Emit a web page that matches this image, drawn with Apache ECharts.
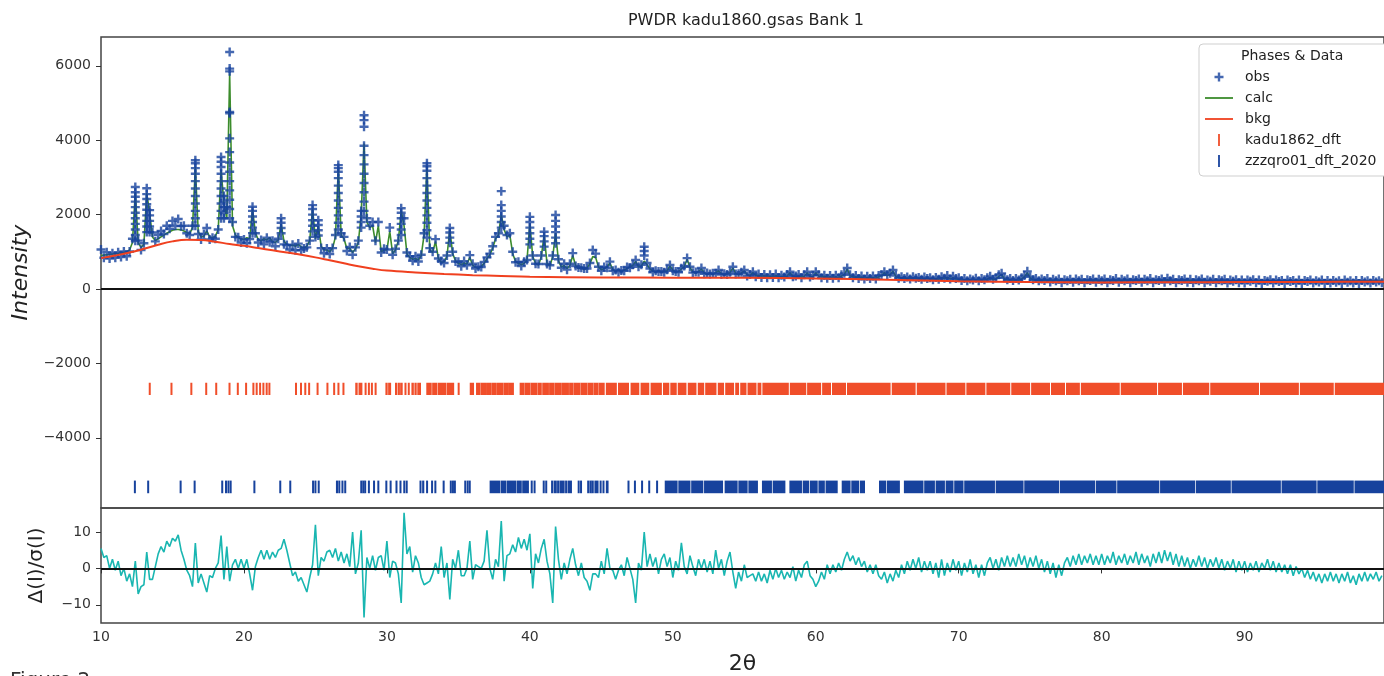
<!DOCTYPE html>
<html>
<head>
<meta charset="utf-8">
<title>PWDR kadu1860.gsas Bank 1</title>
<script src="https://cdn.jsdelivr.net/npm/echarts@6/dist/echarts.min.js"></script>
<style>
  html, body { margin: 0; padding: 0; background: #fff; }
  #chart { width: 1384px; height: 676px; }
</style>
</head>
<body>
<div id="chart"></div>
<script>
// scan grid (2θ, degrees)
const tthStart = 10.0;
const tthStep = 0.2;

// observed intensity, one row = 2 degrees
const obsI = [
  1060, 840, 990, 820, 960, 840, 990, 860, 1010, 880,         // 10
  1010, 1350, 2740, 1300, 1050, 1230, 2710, 2120, 1520, 1280, // 12
  1450, 1560, 1480, 1700, 1620, 1830, 1700, 1880, 1690, 1700, // 14
  1500, 1450, 1700, 3460, 1480, 1330, 1480, 1640, 1330, 1380, // 16
  1350, 1600, 3550, 2500, 2200, 6370, 1800, 1400, 1390, 1250, // 18
  1330, 1230, 1340, 2210, 1500, 1250, 1320, 1200, 1380, 1260, // 20
  1300, 1150, 1350, 1900, 1200, 1180, 1060, 1190, 1040, 1220, // 22
  1050, 1090, 1120, 1300, 2255, 1400, 1850, 1100, 960, 1090,  // 24
  940, 1100, 1450, 3330, 1500, 1400, 1020, 1130, 920, 1120,   // 26
  1300, 2100, 4670, 1900, 1700, 1800, 1300, 1800, 980, 1080,  // 28
  1060, 1650, 920, 1080, 1300, 2170, 1900, 980, 880, 760,     // 30
  880, 740, 920, 1500, 3380, 1100, 1000, 1340, 820, 750,      // 32
  700, 900, 1640, 1000, 740, 730, 610, 750, 640, 910,         // 34
  680, 550, 600, 590, 730, 850, 950, 1150, 1400, 1500,        // 36
  2630, 1700, 1450, 1500, 1000, 720, 730, 620, 730, 780,      // 38
  1940, 900, 680, 670, 900, 1540, 670, 640, 900, 1990,        // 40
  800, 570, 680, 520, 680, 965, 620, 580, 570, 550,           // 42
  550, 700, 1050, 950, 600, 490, 590, 570, 735, 490,          // 44
  510, 450, 500, 490, 590, 570, 650, 780, 600, 650,           // 46
  1135, 700, 550, 450, 490, 470, 470, 450, 520, 645,          // 48
  490, 470, 450, 560, 620, 830, 600, 440, 460, 450,           // 50
  565, 410, 430, 400, 420, 420, 510, 390, 410, 390,           // 52
  450, 600, 400, 410, 450, 510, 350, 390, 465, 330,           // 54
  400, 310, 390, 300, 380, 310, 400, 300, 370, 320,           // 56
  390, 465, 330, 350, 390, 300, 380, 465, 320, 370,           // 58
  465, 380, 300, 370, 290, 360, 290, 370, 300, 380,           // 60
  420, 565, 380, 300, 360, 280, 350, 270, 340, 280,           // 62
  350, 270, 360, 380, 465, 380, 420, 510, 360, 290,           // 64
  330, 280, 320, 270, 330, 290, 310, 260, 320, 280,           // 66
  300, 250, 310, 260, 330, 290, 360, 270, 340, 280,           // 68
  300, 230, 280, 220, 270, 240, 290, 220, 280, 250,           // 70
  300, 340, 260, 300, 380, 420, 300, 250, 280, 230,           // 72
  280, 240, 300, 360, 475, 330, 250, 280, 220, 270,           // 74
  230, 280, 190, 260, 220, 270, 170, 250, 220, 260,           // 76
  180, 270, 220, 260, 170, 250, 230, 270, 180, 260,           // 78
  220, 270, 170, 250, 230, 280, 180, 260, 220, 270,           // 80
  170, 250, 230, 270, 180, 260, 220, 280, 170, 250,           // 82
  230, 270, 180, 290, 220, 260, 170, 250, 230, 270,           // 84
  180, 260, 170, 250, 220, 270, 170, 240, 210, 260,           // 86
  170, 250, 220, 260, 160, 240, 210, 250, 170, 240,           // 88
  160, 240, 210, 250, 170, 240, 150, 230, 210, 250,           // 90
  160, 240, 200, 230, 150, 240, 200, 230, 160, 240,           // 92
  150, 230, 200, 240, 160, 220, 190, 240, 150, 230,           // 94
  160, 230, 180, 220, 150, 240, 180, 220, 160, 230,           // 96
  150, 230, 190, 220, 160, 230, 190, 220, 170                 // 98
];

// extra obs points stacked on the flanks of the strong peaks: [2θ, [I...]]
const obsStacks = [
  [12.4, [2600, 2480, 2350, 2200, 2050, 1900, 1750, 1600, 1450, 1300]],
  [13.2, [2550, 2420, 2280, 2130, 1980, 1830, 1680, 1530]],
  [13.4, [1980, 1830, 1680, 1530]],
  [16.6, [3380, 3250, 3100, 2900, 2700, 2500, 2300, 2100, 1900, 1700]],
  [18.4, [3420, 3280, 3100, 2900, 2700, 2500, 2300, 2100, 1900]],
  [18.6, [2350, 2200, 2050, 1900]],
  [19.0, [5925, 5850, 4760, 4725, 4050, 3680, 3400, 3150, 2900, 2650, 2400, 2150, 1900]],
  [20.6, [2100, 1950, 1800, 1650, 1500]],
  [22.6, [1780, 1640, 1500]],
  [24.8, [2150, 2000, 1850, 1700, 1550]],
  [25.2, [1720, 1580, 1440]],
  [26.6, [3250, 3150, 2980, 2780, 2580, 2380, 2180, 1980, 1780, 1600]],
  [28.2, [1950, 1800, 1650]],
  [28.4, [4540, 4360, 3850, 3600, 3350, 3100, 2850, 2600, 2350, 2100]],
  [31.0, [2050, 1900, 1750, 1600, 1450]],
  [32.8, [3300, 3180, 2980, 2780, 2580, 2380, 2180, 1980, 1780, 1580, 1380]],
  [34.4, [1520, 1380, 1240]],
  [38.0, [2255, 2100, 1950, 1800, 1650]],
  [40.0, [1800, 1650, 1500, 1350, 1200]],
  [41.0, [1420, 1280, 1140]],
  [41.8, [1830, 1680, 1530, 1380, 1230]],
  [48.0, [1020, 900]]
];

// calculated profile on the same grid
const calcI = [
  900, 910, 920, 930, 940, 950, 960, 970, 985, 1000,          // 10
  1050, 1250, 2600, 1250, 1120, 1200, 2580, 2050, 1400, 1300, // 12
  1350, 1400, 1450, 1500, 1540, 1580, 1600, 1600, 1590, 1560, // 14
  1520, 1480, 1650, 3280, 1550, 1400, 1420, 1560, 1400, 1380, // 16
  1420, 1600, 3200, 2300, 1900, 5800, 1700, 1450, 1380, 1350, // 18
  1330, 1380, 1350, 2150, 1500, 1330, 1300, 1350, 1320, 1380, // 20
  1270, 1250, 1320, 1750, 1280, 1200, 1170, 1180, 1150, 1200, // 22
  1130, 1100, 1150, 1300, 2150, 1350, 1700, 1150, 1050, 1050, // 24
  1000, 1100, 1400, 3250, 1450, 1350, 1080, 1100, 980, 1080,  // 26
  1250, 2000, 3910, 1800, 1650, 1700, 1250, 1700, 1000, 1050, // 28
  1050, 1550, 950, 1050, 1300, 2100, 1700, 950, 850, 800,     // 30
  820, 780, 900, 1450, 3300, 1050, 980, 1280, 820, 720,       // 32
  730, 880, 1600, 950, 760, 690, 650, 700, 670, 850,          // 34
  640, 580, 560, 610, 690, 820, 920, 1100, 1350, 1450,        // 36
  1990, 1600, 1400, 1450, 950, 740, 690, 650, 690, 780,       // 38
  1750, 870, 690, 640, 870, 1450, 690, 620, 870, 1500,        // 40
  760, 590, 630, 550, 630, 900, 630, 550, 590, 520,           // 42
  570, 680, 870, 850, 590, 520, 550, 590, 700, 520,           // 44
  480, 520, 470, 510, 550, 590, 630, 740, 590, 620,           // 46
  750, 650, 540, 480, 460, 490, 450, 470, 490, 620,           // 48
  510, 450, 470, 540, 600, 800, 580, 460, 430, 470,           // 50
  540, 430, 400, 420, 390, 440, 490, 410, 380, 410,           // 52
  440, 570, 420, 380, 430, 490, 380, 360, 440, 360,           // 54
  370, 340, 360, 330, 350, 330, 360, 330, 340, 330,           // 56
  350, 440, 340, 330, 350, 320, 340, 440, 330, 340,           // 58
  440, 350, 320, 340, 310, 330, 310, 330, 310, 350,           // 60
  390, 540, 360, 320, 330, 300, 320, 290, 310, 300,           // 62
  310, 290, 330, 360, 440, 360, 390, 480, 340, 300,           // 64
  300, 280, 290, 270, 300, 280, 290, 265, 290, 275,           // 66
  280, 260, 285, 265, 300, 280, 320, 270, 300, 270,           // 68
  260, 240, 250, 235, 250, 240, 255, 235, 250, 240,           // 70
  270, 310, 250, 270, 340, 390, 270, 240, 250, 230,           // 72
  250, 235, 270, 330, 440, 300, 240, 250, 225, 240,           // 74
  230, 240, 225, 235, 225, 240, 220, 235, 225, 235,           // 76
  225, 240, 225, 235, 220, 235, 225, 240, 220, 235,           // 78
  225, 235, 220, 235, 225, 240, 220, 235, 225, 240,           // 80
  220, 235, 225, 240, 220, 235, 225, 245, 220, 235,           // 82
  225, 240, 220, 250, 225, 235, 220, 235, 225, 240,           // 84
  220, 235, 220, 235, 225, 240, 220, 230, 220, 235,           // 86
  220, 230, 225, 235, 215, 230, 220, 230, 215, 230,           // 88
  215, 230, 220, 230, 215, 225, 210, 225, 215, 230,           // 90
  210, 225, 215, 225, 210, 225, 215, 225, 210, 225,           // 92
  210, 220, 215, 225, 210, 220, 210, 225, 210, 220,           // 94
  210, 220, 210, 220, 210, 225, 210, 220, 210, 220,           // 96
  210, 220, 210, 220, 210, 220, 210, 215, 210                 // 98
];

// background curve [2θ, I]
const bkgPts = [
  [10, 830], [11, 900], [12, 980], [13, 1080], [14, 1190], [15, 1280], [16, 1325],
  [17, 1320], [18, 1270], [19, 1210], [20, 1160], [21, 1100], [22, 1040], [23, 980],
  [24, 920], [25, 850], [26, 770], [27, 690], [28, 610], [29, 545], [30, 495],
  [32, 445], [34, 405], [36, 372], [38, 350], [40, 330], [45, 310], [50, 305],
  [55, 300], [60, 285], [65, 250], [70, 205], [75, 185], [80, 178], [85, 180],
  [90, 185], [95, 190], [99.75, 195]
];

// difference curve Δ(I)/σ(I) on the scan grid
const diffI = [
  5.5, 3.0, 3.5, 0.0, 2.5, -0.5, 2.0, -2.0, 0.0, -3.5,        // 10
  -1.5, -5.0, 2.0, -7.0, -5.0, -4.5, 4.5, -3.0, -3.0, 0.5,    // 12
  4.0, 6.0, 4.5, 7.5, 6.0, 8.3, 7.5, 9.2, 5.0, 2.5,           // 14
  -0.5, -2.0, -5.0, 7.0, -4.0, -1.5, -4.0, -6.5, -2.0, -2.5,  // 16
  0.0, 1.5, 9.0, -3.0, 6.0, -3.5, 1.0, 2.5, 0.0, 2.5,         // 18
  0.0, 2.5, -1.5, -6.0, 0.5, 3.0, 5.0, 2.5, 5.0, 2.5,         // 20
  4.5, 3.0, 5.0, 5.5, 8.0, 5.0, 1.5, -2.0, -1.0, -3.5,        // 22
  -2.5, -4.5, -6.5, -2.5, 1.0, 12.0, -2.0, 3.0, 2.0, 4.5,     // 24
  5.0, 3.0, 5.5, 2.0, 4.5, 1.5, 4.0, 0.5, 10.0, -1.5,         // 26
  1.5, 10.5, -13.5, 3.0, 0.0, 3.5, -0.5, 3.0, 3.5, -0.5,      // 28
  7.5, -2.5, 2.0, 1.5, -1.5, -9.5, 15.3, 4.0, 6.0, -1.0,      // 30
  3.5, 1.5, -2.5, -4.5, -4.0, -3.5, -1.5, 1.5, -1.5, 6.0,     // 32
  -2.5, 1.5, -8.5, 2.5, 0.0, 5.0, -2.0, -2.0, 0.0, 7.5,       // 34
  -3.0, 1.0, 0.5, 0.0, 2.0, 10.5, 0.0, -3.0, 2.5, 0.5,        // 36
  13.0, -3.5, 3.5, 4.0, 6.5, 4.5, 8.5, 5.5, 8.0, 5.0,         // 38
  9.5, -5.5, 4.0, 1.5, 5.5, 8.0, 2.0, -1.5, -9.5, 11.5,       // 40
  2.5, -3.0, 1.5, -1.5, 2.5, 5.5, 1.0, -2.0, 1.5, -2.5,       // 42
  -3.5, -6.0, -1.5, -1.5, -2.5, 2.0, -1.5, 5.5, 0.0, -0.5,    // 44
  -3.0, -0.5, 1.0, -2.0, 3.0, 0.0, -3.0, -9.5, 1.5, -0.5,     // 46
  10.0, 0.5, 4.0, 0.5, 3.0, -1.5, 2.5, 4.0, 0.5, 3.0,         // 48
  -2.5, 2.0, -0.5, 7.0, 0.5, -1.5, 3.5, 0.5, -2.0, 2.5,       // 50
  0.0, 2.5, -1.0, 2.0, -1.5, 5.0, 0.0, 2.5, -2.0, 2.0,        // 52
  4.5, -1.0, -5.5, -1.0, -3.5, 1.0, -2.5, -2.0, -1.5, -3.5,   // 54
  -1.0, -3.5, -1.5, -4.0, -0.5, -3.0, 0.0, -2.5, -0.5, -3.0,  // 56
  -1.0, -2.5, 0.5, -3.5, -0.5, -2.5, 1.0, 2.0, -2.0, -3.0,    // 58
  -5.0, -3.5, -1.0, -3.0, 1.0, -1.5, 1.0, -1.0, 1.5, -0.5,    // 60
  2.5, 4.5, 2.0, 3.5, 1.0, 3.0, 0.5, 2.0, -1.0, 1.0,          // 62
  -1.5, 1.0, -2.0, -3.0, -1.0, -4.0, -1.5, -3.5, -0.5, -2.5,  // 64
  1.0, -1.5, 2.0, -0.5, 2.5, 0.0, 3.0, -1.0, 2.0, -0.5,       // 66
  2.0, -1.5, 1.5, -2.5, 2.5, -2.0, 1.5, -1.0, 2.5, -0.5,      // 68
  2.0, -2.0, 1.5, -1.0, 2.5, -1.5, 1.0, -2.5, 1.0, -2.0,      // 70
  1.5, 3.0, 0.0, 2.5, -0.5, 3.0, 0.5, 3.5, 0.5, 3.0,          // 72
  0.5, 4.0, 1.0, 3.5, 0.0, 3.0, 0.5, 3.5, 0.0, 2.5,           // 74
  -1.0, 2.0, -1.5, 1.5, -2.5, 1.0, -2.0, 1.5, 3.0, 0.5,       // 76
  3.5, 1.0, 4.0, 1.0, 3.5, 1.5, 4.0, 1.0, 3.5, 1.0,           // 78
  4.0, 1.0, 3.5, 1.5, 4.5, 1.0, 3.5, 1.5, 4.0, 1.0,           // 80
  3.5, 1.5, 4.5, 1.0, 4.0, 1.5, 3.5, 0.5, 4.0, 1.5,           // 82
  4.5, 1.5, 5.0, 2.0, 4.5, 1.0, 4.0, 0.5, 3.5, 0.5,           // 84
  3.0, 0.0, 2.5, 0.5, 3.5, 0.5, 3.0, 0.0, 2.5, 0.5,           // 86
  3.0, 0.0, 2.5, -0.5, 2.0, 0.0, 2.5, -1.0, 2.0, -0.5,        // 88
  2.0, -1.0, 1.5, -0.5, 2.0, -1.0, 1.5, 0.0, 2.5, -0.5,       // 90
  2.0, -1.0, 1.5, -1.0, 1.0, -1.5, 1.0, -2.0, 0.5, -1.5,      // 92
  0.0, -2.5, -0.5, -3.0, -1.0, -3.5, -1.5, -4.0, -1.5, -3.5,  // 94
  -1.0, -3.5, -1.5, -4.0, -1.5, -3.5, -1.0, -4.0, -2.0, -4.5, // 96
  -1.5, -3.5, -1.0, -3.5, -1.5, -3.0, -1.0, -3.5, -2.0        // 98
];

// reflection positions (single 2θ or [from, to] for packed runs)
const kaduTicks = [
  13.41, 14.93, 16.32, 17.36, 18.06, 18.99, 19.57, 20.15, 20.66, 20.89, 21.13, 21.36, 21.59, 21.78,
  23.64, 23.99, 24.29, 24.56, 25.15, 25.84, 26.31, 26.61, 26.96,
  [27.82, 27.92], [28.05, 28.25], 28.51, 28.74, 28.95, 29.21,
  [29.93, 30.02], [30.12, 30.26], [30.6, 30.7], 30.84, [30.96, 31.07], 31.3, 31.53,
  [31.75, 31.85], [31.96, 32.05], [32.16, 32.35],
  [32.79, 33.1], [33.2, 33.5], [33.6, 34.1], [34.2, 34.67], 35.02, [35.83, 36.06],
  [36.27, 36.5], [36.58, 36.9], [36.97, 37.3], [37.38, 37.6], [37.68, 38.1], [38.18, 38.5], [38.56, 38.85],
  [39.32, 39.6], [39.68, 40.0], [40.08, 40.5], [40.58, 40.8], [40.9, 41.3], [41.38, 41.7], [41.78, 42.2],
  [42.28, 42.7], [42.78, 43.0], [43.08, 43.5], [43.58, 44.0], [44.08, 44.4], [44.48, 44.77], [44.85, 45.2],
  [45.35, 46.05], [46.2, 46.9], [47.08, 47.62], [47.78, 48.32], [48.48, 49.2], [49.35, 49.72], [49.86, 50.24],
  [50.38, 50.92], [51.08, 51.62], [51.78, 52.16], [52.3, 53.02], [53.18, 53.55], [53.7, 54.25], [54.4, 54.6],
  [54.75, 55.12], [55.26, 55.82], [55.96, 56.16], [56.3, 58.08], [58.22, 59.3], [59.43, 60.34], [60.48, 61.03],
  [61.17, 62.08], [62.22, 65.2], [65.35, 66.95], [67.1, 69.04], [69.18, 70.43], [70.57, 71.83], [71.97, 73.57],
  [73.71, 74.96], [75.1, 76.35], [76.49, 77.4], [77.54, 78.44], [78.58, 81.23], [81.37, 83.84], [83.98, 85.58],
  [85.72, 87.49], [87.63, 90.97], [91.11, 93.76], [93.9, 96.2], [96.34, 99.75]
];
const zzzTicks = [
  12.37, 13.3, 15.57, 16.55, 18.48, [18.71, 18.78], [18.88, 18.95], [19.04, 19.1], 20.73, 22.54, 23.24,
  [24.8, 24.87], 25.0, [25.2, 25.26], [26.47, 26.55], [26.64, 26.7], 26.89, [27.05, 27.12],
  [28.17, 28.25], 28.35, [28.45, 28.51], 28.74, 29.1, 29.4, 29.96, 30.26, 30.67, 30.95,
  [31.18, 31.25], [31.35, 31.42], 32.35, [32.5, 32.58], 32.81, 33.16, 33.39, 33.97,
  [34.44, 34.5], 34.62, [34.72, 34.79], 35.48, 35.65, [35.76, 35.83],
  [37.22, 37.9], [38.0, 38.3], [38.4, 39.0], [39.1, 39.4], [39.5, 39.9], 40.13, [40.3, 40.36],
  [40.94, 41.0], [41.12, 41.17], [41.52, 41.6], [41.7, 41.85], [41.95, 42.0], [42.1, 42.4], [42.5, 42.6],
  [42.7, 42.91], [43.38, 43.45], [43.55, 43.61], 44.08, [44.2, 44.3], 44.4, [44.55, 44.77], 44.95, 45.15,
  [45.35, 45.47], 46.9, 47.35, 47.85, 48.35, 48.9,
  [49.47, 50.3], [50.42, 51.2], [51.32, 52.1], [52.22, 53.48], [53.66, 54.5], [54.62, 55.2], [55.32, 55.92],
  [56.27, 56.9], [57.02, 57.84], [58.19, 59.0], [59.12, 59.5], [59.62, 60.1], [60.22, 60.6], [60.72, 61.5],
  [61.85, 62.4], [62.52, 63.0], [63.12, 63.41], [64.46, 64.9], [65.02, 65.85], [66.2, 67.5], [67.62, 68.3],
  [68.42, 69.0], [69.12, 69.6], [69.72, 70.3], [70.42, 72.5], [72.62, 74.5], [74.62, 77.0], [77.12, 79.5],
  [79.62, 81.0], [81.12, 84.0], [84.12, 86.5], [86.62, 89.0], [89.12, 92.5], [92.62, 95.0], [95.12, 97.6],
  [97.72, 99.75]
];

// tick labels
const tthTicks = [10, 20, 30, 40, 50, 60, 70, 80, 90];
const intensityTicks = [-4000, -2000, 0, 2000, 4000, 6000];
const diffTicks = [-10, 0, 10];

// ---- build series data ----
const tth = obsI.map((_, i) => +(tthStart + i * tthStep).toFixed(2));
const obsData = obsI.map((v, i) => [tth[i], v]);
obsStacks.forEach(([x, ys]) => ys.forEach(y => obsData.push([x, y])));
const calcData = calcI.map((v, i) => [tth[i], v]);
const diffData = diffI.map((v, i) => [tth[i], v]);
const toSpan = t => Array.isArray(t) ? t : [t, t];

const FONT = 'DejaVu Sans';
const plus = 'path://M3.3,0h2.4v3.3h3.3v2.4h-3.3v3.3h-2.4v-3.3h-3.3v-2.4h3.3z';
// legend icons (extra move-to points pad the bounding box)
const plusIcon = 'path://M-2.5,-2.5M11.5,11.5M3.3,0h2.4v3.3h3.3v2.4h-3.3v3.3h-2.4v-3.3h-3.3v-2.4h3.3z';
const barIcon = 'path://M0,0M0,14M-0.9,1h1.8v12h-1.8z';
const lineIcon = 'path://M0,0M28,14M0,6.1h28v1.8h-28z';
const minus = v => String(v).replace('-', '\u2212');

// draws a row of reflection ticks between two intensity levels
function tickRow(top, bottom) {
  return function (params, api) {
    const a = api.coord([api.value(0), top]);
    const b = api.coord([api.value(1), bottom]);
    const w = Math.max(b[0] - a[0] + 1, 2);
    const cx = (a[0] + b[0]) / 2;
    return {
      type: 'rect',
      shape: { x: cx - w / 2, y: a[1], width: w, height: b[1] - a[1] },
      style: { fill: api.visual('color') }
    };
  };
}

const myChart = echarts.init(document.getElementById('chart'), null, { renderer: 'canvas' });

const axisText = { fontSize: 14, color: '#333', fontFamily: FONT };

let option = {
  animation: false,
  backgroundColor: '#fff',
  graphic: [
    { type: 'text', x: 746, y: 21, z: 10,
      style: { text: 'PWDR kadu1860.gsas Bank 1', textAlign: 'center', textVerticalAlign: 'middle',
               font: '16px "DejaVu Sans"', fill: '#222' } },
    { type: 'text', x: 1241, y: 56, z: 20,
      style: { text: 'Phases & Data', textAlign: 'left', textVerticalAlign: 'middle',
               font: '14px "DejaVu Sans"', fill: '#222' } },
    { type: 'text', x: 10, y: 671, z: 10,
      style: { text: 'Figure 2', textAlign: 'left', textVerticalAlign: 'top',
               font: '20px "DejaVu Sans"', fill: '#333' } }
  ],
  legend: {
    orient: 'vertical',
    left: 1199, top: 44,
    padding: [26, 16, 8, 6],
    itemWidth: 28, itemHeight: 14, itemGap: 7,
    backgroundColor: '#fff', borderColor: '#cfcfcf', borderWidth: 1, borderRadius: 4,
    textStyle: { fontSize: 14, color: '#222', fontFamily: FONT, padding: [0, 0, 0, 7] },
    selectedMode: false,
    data: [
      { name: 'obs', icon: plusIcon },
      { name: 'calc', icon: lineIcon },
      { name: 'bkg', icon: lineIcon },
      { name: 'kadu1862_dft', icon: barIcon },
      { name: 'zzzqro01_dft_2020', icon: barIcon }
    ]
  },
  grid: [
    { left: 101, top: 37, width: 1289, height: 471, show: true, borderColor: '#444', borderWidth: 1.5 },
    { left: 101, top: 508, width: 1289, height: 120, show: true, borderColor: '#444', borderWidth: 1.5 }
  ],
  xAxis: [
    { gridIndex: 0, type: 'value', min: 10, max: 99.75, show: false },
    {
      gridIndex: 1, type: 'value', min: 10, max: 99.75,
      axisLine: { show: false },
      axisTick: { show: true, length: 5, customValues: tthTicks, lineStyle: { color: '#333' } },
      axisLabel: { customValues: tthTicks, margin: 7, ...axisText },
      splitLine: { show: false },
      name: '2θ', nameLocation: 'middle', nameGap: 30,
      nameTextStyle: { fontSize: 22, color: '#222', fontFamily: FONT }
    }
  ],
  yAxis: [
    {
      gridIndex: 0, type: 'value', min: -5887, max: 6774,
      axisLine: { show: false },
      axisTick: { show: true, length: 5, customValues: intensityTicks, lineStyle: { color: '#333' } },
      axisLabel: { customValues: intensityTicks, formatter: minus, margin: 10, ...axisText },
      splitLine: { show: false },
      name: 'Intensity', nameLocation: 'middle', nameGap: 66, nameRotate: 90,
      nameTextStyle: { fontSize: 22, fontStyle: 'italic', color: '#222', fontFamily: FONT }
    },
    {
      gridIndex: 1, type: 'value', min: -15, max: 16.6,
      axisLine: { show: false },
      axisTick: { show: true, length: 5, customValues: diffTicks, lineStyle: { color: '#333' } },
      axisLabel: { customValues: diffTicks, formatter: minus, margin: 10, ...axisText },
      splitLine: { show: false },
      name: 'Δ(I)/σ(I)', nameLocation: 'middle', nameGap: 54, nameRotate: 90,
      nameTextStyle: { fontSize: 20, color: '#222', fontFamily: FONT }
    }
  ],
  series: [
    {
      name: 'calc', type: 'line', xAxisIndex: 0, yAxisIndex: 0, z: 2,
      symbol: 'none',
      lineStyle: { color: '#3c8c2c', width: 1.6 },
      itemStyle: { color: '#3c8c2c' },
      data: calcData
    },
    {
      name: 'obs', type: 'scatter', xAxisIndex: 0, yAxisIndex: 0, z: 3,
      symbol: plus, symbolSize: 9,
      itemStyle: { color: '#17429d' },
      data: obsData
    },
    {
      name: 'bkg', type: 'line', xAxisIndex: 0, yAxisIndex: 0, z: 4,
      symbol: 'none', smooth: 0.4,
      lineStyle: { color: '#f0401f', width: 2 },
      itemStyle: { color: '#f0401f' },
      data: bkgPts,
      markLine: {
        silent: true, symbol: 'none', label: { show: false },
        lineStyle: { color: '#111', width: 2, type: 'solid' },
        data: [{ yAxis: 0 }]
      }
    },
    {
      name: 'kadu1862_dft', type: 'custom', xAxisIndex: 0, yAxisIndex: 0, z: 2,
      itemStyle: { color: '#f04e2a' },
      renderItem: tickRow(-2520, -2850),
      data: kaduTicks.map(toSpan)
    },
    {
      name: 'zzzqro01_dft_2020', type: 'custom', xAxisIndex: 0, yAxisIndex: 0, z: 2,
      itemStyle: { color: '#17429d' },
      renderItem: tickRow(-5150, -5490),
      data: zzzTicks.map(toSpan)
    },
    {
      name: 'diff', type: 'line', xAxisIndex: 1, yAxisIndex: 1, z: 2,
      symbol: 'none',
      lineStyle: { color: '#19b6b1', width: 1.6 },
      data: diffData,
      markLine: {
        silent: true, symbol: 'none', label: { show: false },
        lineStyle: { color: '#111', width: 2, type: 'solid' },
        data: [{ yAxis: 0 }]
      }
    }
  ]
};

myChart.setOption(option);
</script>
</body>
</html>
